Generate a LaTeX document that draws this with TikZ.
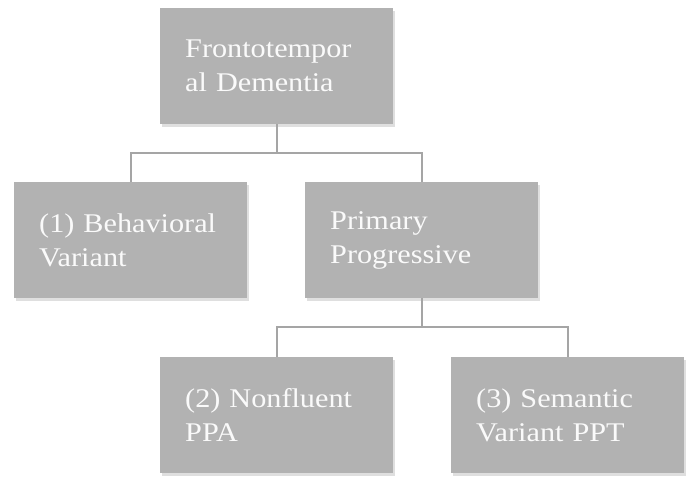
\documentclass[tikz,border=0pt]{standalone}
\usepackage{fontspec}
\setmainfont{Liberation Serif}[FakeStretch=1.12]
\usepackage{tikz}
\usetikzlibrary{shadows}
\definecolor{boxgray}{RGB}{178, 178, 178}
\definecolor{linegray}{RGB}{165, 165, 165}
\definecolor{txtwhite}{RGB}{250, 250, 250}

\tikzset{
  ftdbox/.style={rectangle, fill=boxgray, text=txtwhite, anchor=north west,
    minimum width=233pt, minimum height=116pt, text width=183pt,
    inner xsep=25pt, align=left,
    font=\fontsize{27}{34}\selectfont,
    drop shadow={opacity=0.25, shadow xshift=2pt, shadow yshift=-3pt}},
  link/.style={draw=linegray, line width=2pt}
}

\begin{document}
\begin{tikzpicture}[x=1pt, y=-1pt]
        \useasboundingbox (0,0) rectangle (700,491);
        % Root
        \node[ftdbox] (ftd) at (160,8) {Frontotempor\\al Dementia};
        % Second level
        \node[ftdbox] (bv) at (14,182) {(1) Behavioral\\Variant};
        \node[ftdbox] (pp) at (305,182) {Primary\\Progressive};
        % Third level
        \node[ftdbox] (nf) at (160,357) {(2) Nonfluent\\PPA};
        \node[ftdbox] (sv) at (451,357) {(3) Semantic\\Variant PPT};
        % Connectors
        \draw[link] (ftd.south) -- ++(0,29) -| (bv.north);
        \draw[link] (ftd.south) -- ++(0,29) -| (pp.north);
        \draw[link] (pp.south) -- ++(0,29) -| (nf.north);
        \draw[link] (pp.south) -- ++(0,29) -| (sv.north);
      \end{tikzpicture}
\end{document}
